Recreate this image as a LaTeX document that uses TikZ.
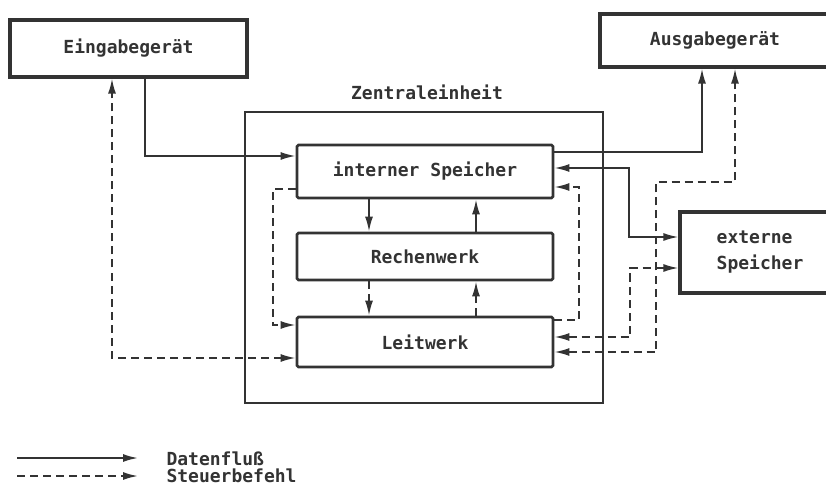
\documentclass[tikz,border=0pt]{standalone}
\usepackage{fontspec}
\newfontfamily\labfont{DejaVu Sans Mono Bold}
\usetikzlibrary{arrows.meta}
\definecolor{ink}{HTML}{333333}
\begin{document}
\begin{tikzpicture}[x=1pt,y=-1pt,
  every node/.style={font=\labfont\fontsize{18}{22}\selectfont, text=ink},
  unitbox/.style={draw=ink, line width=2.8pt, rectangle, rounded corners=1.5pt, inner sep=0pt},
  devbox/.style={draw=ink, line width=3.2pt, rectangle, inner sep=0pt},
  outerbox/.style={draw=ink, line width=1.5pt, rectangle, inner sep=0pt},
  data/.style={draw=ink, line width=1.8pt},
  ctrl/.style={draw=ink, line width=1.8pt, dash pattern=on 8pt off 5pt},
  >={Latex[length=15pt,width=8pt]}]
\useasboundingbox (0,0) rectangle (826,502);

% devices
\node[devbox, minimum width=237pt, minimum height=57pt] (ein) at (128.5,48.5) {Eingabegerät};
\node[devbox, minimum width=230pt, minimum height=53pt] (aus) at (715,40.5) {Ausgabegerät};
\node[devbox, minimum width=160pt, minimum height=81pt, align=left] (es) at (760,252.5) {externe\\[4pt]Speicher};

% central unit
\node[outerbox, minimum width=358pt, minimum height=291pt] (ze) at (424,257.5) {};
\node (zel) at (427,92) {Zentraleinheit};
\node[unitbox, minimum width=256pt, minimum height=53pt] (is) at (425,171.5) {interner Speicher};
\node[unitbox, minimum width=256pt, minimum height=47pt] (rw) at (425,256.5) {Rechenwerk};
\node[unitbox, minimum width=256pt, minimum height=50pt] (lw) at (425,342) {Leitwerk};

% data flow
\draw[data,->] (ein.south -| 145,0) |- (is.west |- 0,156);
\draw[data,->] (is.south -| 369,0) -- (rw.north -| 369,0);
\draw[data,->] (rw.north -| 476,0) -- (is.south -| 476,0);
\draw[data,->] (is.east |- 0,152) -| (aus.south -| 702,0);
\draw[data,<->] (es.west |- 0,237) -| (629,168) -- (is.east |- 0,168);

% control
\draw[ctrl,<->] (lw.west |- 0,358) -| (ein.south -| 112,0);
\draw[ctrl,->] (is.west |- 0,189) -| (273,325) -- (lw.west |- 0,325);
\draw[ctrl,->] (rw.south -| 369,0) -- (lw.north -| 369,0);
\draw[ctrl,->] (lw.north -| 476,0) -- (rw.south -| 476,0);
\draw[ctrl,->] (lw.east |- 0,320) -| (579,187) -- (is.east |- 0,187);
\draw[ctrl,<->] (lw.east |- 0,352) -| (656,182) -| (aus.south -| 735,0);
\draw[ctrl,<->] (lw.east |- 0,337) -| (630,268) -- (es.west |- 0,268);

% legend
\coordinate (la) at (17,458);
\coordinate (lb) at (138,458);
\coordinate (lc) at (17,476);
\coordinate (ld) at (138,476);
\draw[data,->] (la) -- (lb);
\draw[ctrl,->] (lc) -- (ld);
\node[anchor=west] (lt1) at (163,459) {Datenfluß};
\node[anchor=west] (lt2) at (163,476) {Steuerbefehl};
\end{tikzpicture}
\end{document}
